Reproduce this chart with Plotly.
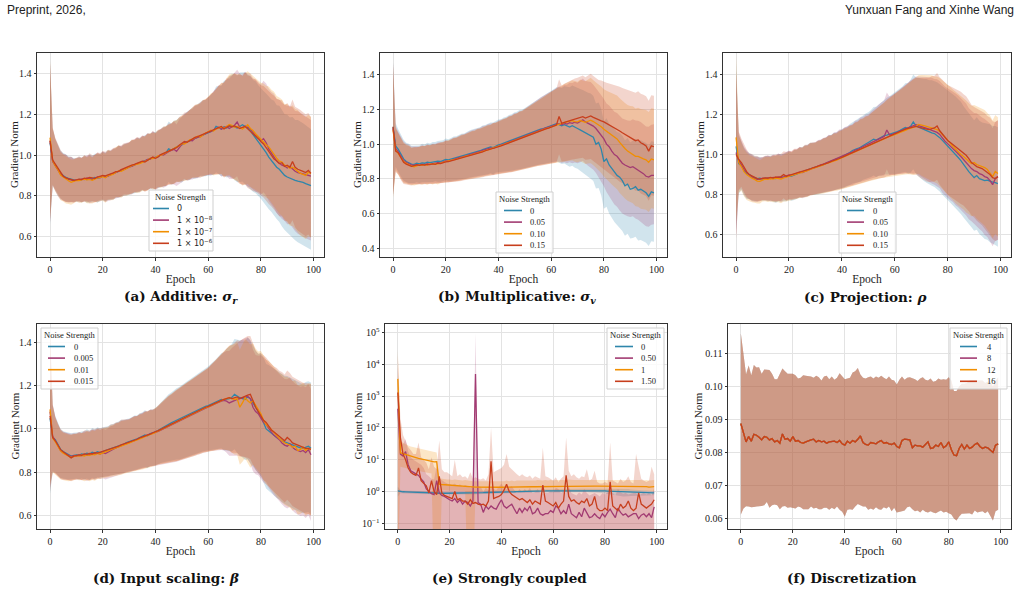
import plotly.graph_objects as go

W, H = 1021, 594
EPOCHS = list(range(100))
E_FLOOR = 1e-3

COLORS = ["#2E86AB", "#A23B72", "#F18F01", "#C73E1D"]

# ---------------- (a) Additive ----------------
a_labels = ["0", "1 × 10<sup>−8</sup>", "1 × 10<sup>−7</sup>", "1 × 10<sup>−6</sup>"]
a_0 = [1.060, 0.970, 0.950, 0.930, 0.910, 0.900, 0.890, 0.885, 0.880, 0.878,
       0.876, 0.880, 0.879, 0.884, 0.880, 0.886, 0.884, 0.890, 0.886, 0.892,
       0.896, 0.894, 0.900, 0.905, 0.908, 0.914, 0.920, 0.924, 0.930, 0.934,
       0.940, 0.946, 0.950, 0.956, 0.962, 0.966, 0.972, 0.976, 0.982, 0.986,
       0.990, 0.992, 1.000, 1.006, 1.012, 1.030, 1.024, 1.032, 1.040, 1.046,
       1.050, 1.060, 1.064, 1.070, 1.076, 1.080, 1.088, 1.094, 1.100, 1.104,
       1.110, 1.116, 1.120, 1.140, 1.134, 1.128, 1.138, 1.132, 1.140, 1.144,
       1.138, 1.132, 1.140, 1.148, 1.140, 1.132, 1.118, 1.100, 1.088, 1.070,
       1.050, 1.030, 1.012, 0.990, 0.972, 0.956, 0.940, 0.930, 0.914, 0.900,
       0.892, 0.886, 0.882, 0.876, 0.872, 0.870, 0.866, 0.860, 0.856, 0.850]
a_1 = [1.070, 0.968, 0.948, 0.925, 0.905, 0.895, 0.887, 0.880, 0.878, 0.874,
       0.878, 0.876, 0.882, 0.880, 0.888, 0.882, 0.880, 0.886, 0.892, 0.888,
       0.898, 0.892, 0.896, 0.904, 0.910, 0.912, 0.918, 0.926, 0.928, 0.936,
       0.942, 0.944, 0.952, 0.958, 0.960, 0.968, 0.970, 0.978, 0.980, 0.988,
       0.986, 0.994, 1.002, 1.000, 1.010, 1.016, 1.022, 1.028, 1.018, 1.036,
       1.052, 1.058, 1.066, 1.072, 1.070, 1.082, 1.086, 1.090, 1.098, 1.106,
       1.112, 1.114, 1.124, 1.130, 1.136, 1.126, 1.134, 1.140, 1.130, 1.138,
       1.146, 1.162, 1.136, 1.130, 1.142, 1.136, 1.128, 1.110, 1.096, 1.088,
       1.070, 1.080, 1.060, 1.030, 1.010, 0.990, 0.970, 0.960, 0.950, 0.946,
       0.936, 0.944, 0.930, 0.920, 0.914, 0.912, 0.908, 0.904, 0.900, 0.896]
a_2 = [1.085, 0.972, 0.946, 0.928, 0.902, 0.892, 0.880, 0.874, 0.866, 0.872,
       0.876, 0.874, 0.878, 0.882, 0.878, 0.880, 0.876, 0.884, 0.888, 0.890,
       0.894, 0.888, 0.900, 0.902, 0.906, 0.916, 0.922, 0.920, 0.928, 0.932,
       0.940, 0.948, 0.952, 0.954, 0.958, 0.964, 0.968, 0.974, 0.984, 0.982,
       0.988, 0.996, 0.998, 1.004, 1.014, 1.018, 1.024, 1.032, 1.040, 1.044,
       1.056, 1.054, 1.062, 1.074, 1.078, 1.084, 1.092, 1.088, 1.100, 1.108,
       1.114, 1.122, 1.118, 1.128, 1.132, 1.138, 1.130, 1.142, 1.150, 1.146,
       1.136, 1.140, 1.134, 1.128, 1.136, 1.148, 1.130, 1.120, 1.104, 1.090,
       1.078, 1.066, 1.050, 1.040, 1.020, 1.000, 0.985, 0.970, 0.966, 0.950,
       0.945, 0.935, 0.940, 0.930, 0.920, 0.910, 0.905, 0.900, 0.915, 0.910]
a_3 = [1.070, 0.975, 0.955, 0.935, 0.912, 0.896, 0.888, 0.884, 0.880, 0.876,
       0.878, 0.882, 0.880, 0.886, 0.884, 0.890, 0.888, 0.884, 0.892, 0.896,
       0.900, 0.898, 0.902, 0.908, 0.912, 0.918, 0.920, 0.928, 0.934, 0.938,
       0.942, 0.950, 0.954, 0.960, 0.964, 0.970, 0.966, 0.974, 0.982, 0.990,
       0.984, 0.990, 1.002, 1.008, 1.012, 1.020, 1.026, 1.030, 1.036, 1.048,
       1.058, 1.066, 1.062, 1.070, 1.080, 1.086, 1.090, 1.096, 1.102, 1.106,
       1.112, 1.118, 1.124, 1.128, 1.134, 1.140, 1.128, 1.136, 1.144, 1.138,
       1.142, 1.136, 1.130, 1.136, 1.140, 1.128, 1.116, 1.104, 1.096, 1.080,
       1.066, 1.054, 1.036, 1.016, 1.000, 0.980, 0.972, 0.958, 0.962, 0.944,
       0.950, 0.940, 0.968, 0.940, 0.930, 0.926, 0.920, 0.914, 0.924, 0.910]
a_up = [0.380, 0.160, 0.130, 0.118, 0.112, 0.110, 0.114, 0.108, 0.112, 0.106,
        0.108, 0.112, 0.106, 0.114, 0.110, 0.118, 0.112, 0.116, 0.120, 0.114,
        0.120, 0.118, 0.124, 0.116, 0.122, 0.120, 0.126, 0.118, 0.124, 0.122,
        0.120, 0.126, 0.122, 0.128, 0.120, 0.126, 0.124, 0.130, 0.122, 0.128,
        0.122, 0.128, 0.126, 0.132, 0.128, 0.134, 0.130, 0.136, 0.132, 0.138,
        0.136, 0.142, 0.146, 0.150, 0.156, 0.160, 0.158, 0.164, 0.168, 0.166,
        0.172, 0.180, 0.188, 0.196, 0.206, 0.214, 0.226, 0.236, 0.244, 0.252,
        0.260, 0.256, 0.264, 0.258, 0.266, 0.262, 0.270, 0.268, 0.274, 0.272,
        0.276, 0.284, 0.290, 0.296, 0.300, 0.310, 0.304, 0.312, 0.306, 0.300,
        0.305, 0.298, 0.304, 0.296, 0.300, 0.295, 0.290, 0.286, 0.282, 0.276]
a_lo = [0.400, 0.120, 0.125, 0.128, 0.124, 0.120, 0.118, 0.114, 0.110, 0.108,
        0.105, 0.108, 0.112, 0.110, 0.114, 0.118, 0.114, 0.116, 0.120, 0.116,
        0.118, 0.122, 0.120, 0.124, 0.126, 0.124, 0.128, 0.130, 0.128, 0.132,
        0.135, 0.138, 0.136, 0.140, 0.142, 0.140, 0.146, 0.148, 0.146, 0.152,
        0.155, 0.152, 0.158, 0.160, 0.164, 0.162, 0.168, 0.172, 0.170, 0.178,
        0.185, 0.182, 0.188, 0.192, 0.190, 0.196, 0.200, 0.198, 0.204, 0.208,
        0.210, 0.214, 0.218, 0.224, 0.228, 0.232, 0.238, 0.242, 0.248, 0.254,
        0.260, 0.266, 0.272, 0.278, 0.284, 0.290, 0.286, 0.280, 0.276, 0.270,
        0.265, 0.262, 0.258, 0.256, 0.252, 0.250, 0.254, 0.258, 0.264, 0.268,
        0.275, 0.282, 0.288, 0.294, 0.300, 0.305, 0.308, 0.312, 0.314, 0.315]

# ---------------- (b) Multiplicative ----------------
b_labels = ["0", "0.05", "0.10", "0.15"]
b_0 = [1.100, 0.990, 0.970, 0.940, 0.915, 0.900, 0.890, 0.885, 0.884, 0.890,
       0.886, 0.892, 0.890, 0.896, 0.894, 0.898, 0.900, 0.902, 0.900, 0.906,
       0.912, 0.910, 0.914, 0.918, 0.922, 0.926, 0.930, 0.934, 0.940, 0.944,
       0.948, 0.954, 0.958, 0.962, 0.968, 0.972, 0.976, 0.984, 0.980, 0.990,
       0.996, 1.000, 1.006, 1.012, 1.018, 1.024, 1.030, 1.036, 1.042, 1.046,
       1.052, 1.058, 1.064, 1.070, 1.074, 1.080, 1.086, 1.090, 1.096, 1.100,
       1.104, 1.110, 1.118, 1.112, 1.106, 1.112, 1.104, 1.098, 1.106, 1.096,
       1.090, 1.082, 1.074, 1.066, 1.056, 1.048, 1.040, 1.000, 1.010, 0.970,
       0.900, 0.915, 0.880, 0.860, 0.840, 0.820, 0.810, 0.790, 0.760, 0.770,
       0.740, 0.745, 0.755, 0.735, 0.740, 0.730, 0.720, 0.700, 0.725, 0.720]
b_1 = [1.090, 0.975, 0.955, 0.930, 0.905, 0.895, 0.885, 0.880, 0.878, 0.882,
       0.880, 0.884, 0.882, 0.886, 0.884, 0.888, 0.890, 0.894, 0.892, 0.898,
       0.904, 0.902, 0.908, 0.912, 0.916, 0.922, 0.926, 0.930, 0.936, 0.940,
       0.944, 0.950, 0.954, 0.958, 0.964, 0.968, 0.972, 0.978, 0.976, 0.984,
       0.990, 0.996, 1.000, 1.006, 1.012, 1.018, 1.026, 1.030, 1.036, 1.042,
       1.048, 1.054, 1.060, 1.066, 1.072, 1.078, 1.084, 1.088, 1.094, 1.098,
       1.102, 1.108, 1.114, 1.118, 1.112, 1.120, 1.116, 1.124, 1.120, 1.126,
       1.122, 1.130, 1.140, 1.128, 1.120, 1.114, 1.104, 1.090, 1.070, 1.050,
       1.030, 1.000, 0.985, 0.960, 0.940, 0.930, 0.910, 0.890, 0.880, 0.870,
       0.865, 0.870, 0.860, 0.855, 0.845, 0.830, 0.815, 0.810, 0.820, 0.820]
b_2 = [1.080, 0.965, 0.945, 0.925, 0.900, 0.890, 0.880, 0.874, 0.870, 0.876,
       0.880, 0.878, 0.882, 0.880, 0.886, 0.884, 0.888, 0.886, 0.892, 0.896,
       0.900, 0.904, 0.906, 0.910, 0.914, 0.918, 0.924, 0.928, 0.932, 0.936,
       0.940, 0.944, 0.950, 0.954, 0.958, 0.964, 0.968, 0.972, 0.978, 0.982,
       0.986, 0.992, 0.998, 1.004, 1.010, 1.016, 1.022, 1.028, 1.034, 1.040,
       1.046, 1.052, 1.058, 1.064, 1.070, 1.076, 1.080, 1.086, 1.090, 1.094,
       1.100, 1.104, 1.110, 1.116, 1.120, 1.124, 1.128, 1.132, 1.136, 1.130,
       1.128, 1.136, 1.130, 1.126, 1.132, 1.138, 1.130, 1.120, 1.114, 1.100,
       1.086, 1.074, 1.064, 1.052, 1.040, 1.030, 1.010, 0.990, 0.975, 0.960,
       0.950, 0.945, 0.930, 0.930, 0.920, 0.915, 0.910, 0.895, 0.915, 0.910]
b_3 = [1.100, 0.960, 0.950, 0.920, 0.895, 0.885, 0.878, 0.872, 0.876, 0.880,
       0.878, 0.882, 0.880, 0.884, 0.882, 0.886, 0.884, 0.890, 0.888, 0.894,
       0.898, 0.900, 0.904, 0.908, 0.912, 0.916, 0.920, 0.926, 0.930, 0.934,
       0.938, 0.942, 0.948, 0.952, 0.956, 0.962, 0.966, 0.970, 0.976, 0.980,
       0.984, 0.990, 0.996, 1.002, 1.008, 1.014, 1.020, 1.026, 1.032, 1.038,
       1.044, 1.050, 1.056, 1.062, 1.068, 1.074, 1.078, 1.084, 1.088, 1.092,
       1.098, 1.104, 1.110, 1.160, 1.120, 1.126, 1.130, 1.136, 1.140, 1.144,
       1.150, 1.154, 1.158, 1.150, 1.156, 1.162, 1.154, 1.146, 1.140, 1.134,
       1.128, 1.120, 1.112, 1.104, 1.096, 1.086, 1.076, 1.066, 1.056, 1.048,
       1.040, 1.030, 1.020, 1.024, 1.008, 1.000, 0.990, 0.960, 0.990, 0.985]
b_up = [0.370, 0.130, 0.115, 0.112, 0.110, 0.108, 0.112, 0.106, 0.108, 0.104,
        0.106, 0.110, 0.108, 0.112, 0.110, 0.114, 0.112, 0.116, 0.118, 0.116,
        0.120, 0.118, 0.122, 0.126, 0.124, 0.128, 0.130, 0.128, 0.132, 0.134,
        0.136, 0.134, 0.138, 0.136, 0.140, 0.138, 0.142, 0.140, 0.144, 0.142,
        0.146, 0.144, 0.148, 0.146, 0.150, 0.148, 0.152, 0.150, 0.154, 0.152,
        0.156, 0.160, 0.166, 0.170, 0.176, 0.180, 0.186, 0.190, 0.194, 0.198,
        0.202, 0.206, 0.210, 0.214, 0.218, 0.222, 0.226, 0.230, 0.232, 0.234,
        0.232, 0.236, 0.238, 0.236, 0.240, 0.244, 0.238, 0.234, 0.230, 0.232,
        0.230, 0.234, 0.238, 0.242, 0.246, 0.250, 0.254, 0.258, 0.262, 0.266,
        0.270, 0.274, 0.276, 0.280, 0.282, 0.284, 0.286, 0.290, 0.292, 0.294]
b_lo = [0.390, 0.120, 0.125, 0.128, 0.124, 0.118, 0.114, 0.110, 0.108, 0.110,
        0.110, 0.112, 0.110, 0.114, 0.112, 0.116, 0.114, 0.118, 0.116, 0.120,
        0.120, 0.122, 0.124, 0.126, 0.128, 0.130, 0.132, 0.134, 0.136, 0.136,
        0.138, 0.140, 0.142, 0.144, 0.146, 0.148, 0.150, 0.152, 0.154, 0.154,
        0.156, 0.160, 0.164, 0.168, 0.172, 0.176, 0.180, 0.182, 0.186, 0.188,
        0.190, 0.192, 0.194, 0.196, 0.198, 0.200, 0.202, 0.204, 0.206, 0.208,
        0.210, 0.212, 0.216, 0.218, 0.220, 0.224, 0.226, 0.228, 0.230, 0.232,
        0.232, 0.234, 0.236, 0.240, 0.244, 0.248, 0.252, 0.256, 0.262, 0.266,
        0.272, 0.276, 0.280, 0.284, 0.288, 0.290, 0.292, 0.290, 0.288, 0.286,
        0.284, 0.286, 0.288, 0.290, 0.292, 0.290, 0.288, 0.286, 0.284, 0.282]

# ---------------- (c) Projection ----------------
c_labels = ["0", "0.05", "0.10", "0.15"]
c_0 = [1.040, 0.955, 0.945, 0.920, 0.905, 0.900, 0.890, 0.885, 0.880, 0.882,
       0.878, 0.882, 0.880, 0.884, 0.882, 0.880, 0.884, 0.888, 0.886, 0.890,
       0.894, 0.892, 0.898, 0.904, 0.910, 0.914, 0.918, 0.924, 0.928, 0.932,
       0.936, 0.940, 0.946, 0.950, 0.956, 0.962, 0.968, 0.972, 0.978, 0.982,
       0.988, 0.994, 1.000, 1.010, 1.020, 1.024, 1.030, 1.036, 1.046, 1.052,
       1.060, 1.066, 1.076, 1.072, 1.080, 1.086, 1.094, 1.096, 1.100, 1.106,
       1.108, 1.114, 1.120, 1.126, 1.134, 1.130, 1.140, 1.162, 1.144, 1.136,
       1.130, 1.124, 1.120, 1.112, 1.108, 1.104, 1.096, 1.084, 1.070, 1.056,
       1.044, 1.030, 1.018, 1.000, 0.985, 0.970, 0.950, 0.930, 0.915, 0.900,
       0.885, 0.895, 0.880, 0.875, 0.870, 0.872, 0.866, 0.862, 0.860, 0.855]
c_1 = [1.010, 0.970, 0.948, 0.925, 0.910, 0.898, 0.888, 0.880, 0.876, 0.878,
       0.882, 0.880, 0.884, 0.880, 0.886, 0.884, 0.888, 0.884, 0.890, 0.894,
       0.898, 0.896, 0.902, 0.906, 0.912, 0.910, 0.916, 0.922, 0.926, 0.932,
       0.936, 0.944, 0.948, 0.952, 0.958, 0.964, 0.966, 0.974, 0.980, 0.986,
       0.990, 0.996, 1.004, 1.008, 1.012, 1.022, 1.026, 1.034, 1.040, 1.046,
       1.052, 1.058, 1.064, 1.072, 1.080, 1.084, 1.090, 1.122, 1.098, 1.100,
       1.104, 1.110, 1.116, 1.122, 1.128, 1.134, 1.138, 1.142, 1.148, 1.144,
       1.140, 1.136, 1.130, 1.126, 1.120, 1.116, 1.110, 1.100, 1.080, 1.066,
       1.054, 1.042, 1.032, 1.016, 1.004, 0.990, 0.975, 0.960, 0.940, 0.930,
       0.920, 0.915, 0.905, 0.900, 0.890, 0.885, 0.870, 0.850, 0.880, 0.890]
c_2 = [1.085, 0.960, 0.940, 0.915, 0.900, 0.890, 0.882, 0.876, 0.868, 0.866,
       0.874, 0.878, 0.876, 0.880, 0.878, 0.882, 0.880, 0.878, 0.884, 0.888,
       0.890, 0.894, 0.898, 0.904, 0.908, 0.912, 0.916, 0.920, 0.926, 0.930,
       0.934, 0.938, 0.944, 0.948, 0.954, 0.958, 0.964, 0.968, 0.972, 0.978,
       0.984, 0.988, 0.994, 1.000, 1.006, 1.012, 1.018, 1.024, 1.030, 1.036,
       1.042, 1.048, 1.054, 1.060, 1.066, 1.072, 1.078, 1.084, 1.090, 1.094,
       1.098, 1.104, 1.110, 1.114, 1.120, 1.126, 1.130, 1.134, 1.140, 1.150,
       1.148, 1.144, 1.140, 1.136, 1.132, 1.128, 1.124, 1.114, 1.100, 1.088,
       1.070, 1.056, 1.040, 1.026, 1.012, 1.000, 0.990, 0.975, 0.965, 0.955,
       0.960, 0.950, 0.945, 0.940, 0.935, 0.925, 0.910, 0.890, 0.915, 0.905]
c_3 = [1.000, 0.975, 0.960, 0.935, 0.915, 0.900, 0.892, 0.886, 0.880, 0.878,
       0.880, 0.884, 0.882, 0.886, 0.884, 0.888, 0.886, 0.890, 0.900, 0.892,
       0.896, 0.900, 0.904, 0.908, 0.910, 0.914, 0.920, 0.924, 0.928, 0.934,
       0.938, 0.942, 0.946, 0.952, 0.956, 0.960, 0.966, 0.970, 0.976, 0.980,
       0.986, 0.992, 0.998, 1.002, 1.008, 1.014, 1.020, 1.026, 1.032, 1.038,
       1.044, 1.050, 1.056, 1.062, 1.068, 1.074, 1.080, 1.088, 1.094, 1.100,
       1.104, 1.110, 1.116, 1.120, 1.126, 1.130, 1.134, 1.138, 1.140, 1.136,
       1.132, 1.128, 1.126, 1.124, 1.128, 1.132, 1.142, 1.118, 1.102, 1.086,
       1.070, 1.060, 1.050, 1.040, 1.030, 1.020, 1.010, 0.996, 0.980, 0.960,
       0.950, 0.940, 0.935, 0.930, 0.920, 0.910, 0.900, 0.885, 0.880, 0.890]
c_up = [0.410, 0.140, 0.120, 0.114, 0.110, 0.106, 0.110, 0.108, 0.112, 0.106,
        0.106, 0.110, 0.112, 0.108, 0.114, 0.112, 0.118, 0.114, 0.116, 0.120,
        0.122, 0.118, 0.124, 0.120, 0.126, 0.122, 0.128, 0.124, 0.130, 0.126,
        0.124, 0.128, 0.126, 0.130, 0.128, 0.134, 0.130, 0.136, 0.132, 0.138,
        0.136, 0.140, 0.138, 0.142, 0.140, 0.146, 0.144, 0.150, 0.148, 0.152,
        0.150, 0.156, 0.160, 0.166, 0.170, 0.176, 0.180, 0.186, 0.190, 0.194,
        0.198, 0.204, 0.208, 0.214, 0.220, 0.226, 0.232, 0.236, 0.240, 0.244,
        0.248, 0.252, 0.256, 0.258, 0.262, 0.260, 0.264, 0.266, 0.270, 0.272,
        0.276, 0.280, 0.284, 0.288, 0.290, 0.292, 0.290, 0.294, 0.290, 0.288,
        0.286, 0.290, 0.288, 0.284, 0.286, 0.282, 0.284, 0.280, 0.282, 0.280]
c_lo = [0.420, 0.150, 0.120, 0.124, 0.126, 0.122, 0.120, 0.116, 0.112, 0.110,
        0.108, 0.110, 0.112, 0.114, 0.116, 0.120, 0.118, 0.120, 0.118, 0.122,
        0.120, 0.122, 0.124, 0.126, 0.124, 0.128, 0.130, 0.132, 0.130, 0.134,
        0.136, 0.138, 0.140, 0.142, 0.144, 0.146, 0.148, 0.150, 0.152, 0.154,
        0.156, 0.158, 0.160, 0.162, 0.164, 0.166, 0.168, 0.170, 0.172, 0.174,
        0.176, 0.178, 0.180, 0.184, 0.186, 0.190, 0.194, 0.196, 0.200, 0.202,
        0.206, 0.208, 0.212, 0.216, 0.220, 0.224, 0.230, 0.236, 0.240, 0.246,
        0.252, 0.256, 0.260, 0.262, 0.264, 0.266, 0.268, 0.268, 0.270, 0.270,
        0.270, 0.270, 0.268, 0.268, 0.266, 0.266, 0.264, 0.264, 0.262, 0.262,
        0.264, 0.270, 0.276, 0.282, 0.290, 0.296, 0.302, 0.306, 0.310, 0.314]

# ---------------- (d) Input scaling ----------------
d_labels = ["0", "0.005", "0.01", "0.015"]
d_0 = [1.050, 0.960, 0.950, 0.925, 0.905, 0.895, 0.888, 0.880, 0.874, 0.878,
       0.880, 0.878, 0.884, 0.882, 0.888, 0.884, 0.892, 0.888, 0.894, 0.890,
       0.896, 0.900, 0.904, 0.908, 0.912, 0.916, 0.922, 0.926, 0.930, 0.936,
       0.940, 0.944, 0.950, 0.954, 0.960, 0.966, 0.972, 0.968, 0.978, 0.982,
       0.986, 0.992, 1.000, 1.008, 1.014, 1.022, 1.028, 1.034, 1.040, 1.044,
       1.052, 1.058, 1.064, 1.070, 1.076, 1.082, 1.088, 1.094, 1.098, 1.104,
       1.108, 1.114, 1.118, 1.124, 1.130, 1.136, 1.132, 1.138, 1.140, 1.146,
       1.160, 1.150, 1.144, 1.140, 1.136, 1.148, 1.140, 1.120, 1.100, 1.080,
       1.060, 1.030, 1.000, 0.990, 0.980, 0.970, 0.960, 0.955, 0.945, 0.940,
       0.935, 0.930, 0.925, 0.920, 0.915, 0.912, 0.910, 0.915, 0.920, 0.910]
d_1 = [1.080, 0.965, 0.945, 0.920, 0.900, 0.890, 0.884, 0.878, 0.872, 0.876,
       0.874, 0.878, 0.876, 0.880, 0.878, 0.882, 0.886, 0.884, 0.888, 0.884,
       0.890, 0.886, 0.894, 0.900, 0.906, 0.912, 0.916, 0.922, 0.928, 0.932,
       0.936, 0.942, 0.946, 0.952, 0.956, 0.962, 0.966, 0.972, 0.976, 0.980,
       0.982, 0.988, 0.994, 1.000, 1.006, 1.012, 1.018, 1.024, 1.030, 1.036,
       1.044, 1.050, 1.056, 1.062, 1.068, 1.074, 1.080, 1.086, 1.090, 1.096,
       1.100, 1.108, 1.112, 1.118, 1.124, 1.128, 1.132, 1.128, 1.120, 1.126,
       1.130, 1.136, 1.140, 1.144, 1.148, 1.150, 1.140, 1.100, 1.080, 1.070,
       1.050, 1.030, 1.020, 1.000, 0.985, 0.970, 0.960, 0.950, 0.935, 0.925,
       0.920, 0.930, 0.915, 0.905, 0.900, 0.895, 0.900, 0.890, 0.905, 0.880]
d_2 = [1.090, 0.958, 0.940, 0.918, 0.898, 0.888, 0.880, 0.872, 0.868, 0.872,
       0.876, 0.874, 0.878, 0.874, 0.880, 0.878, 0.882, 0.880, 0.886, 0.884,
       0.890, 0.894, 0.898, 0.904, 0.908, 0.912, 0.916, 0.920, 0.926, 0.930,
       0.934, 0.940, 0.944, 0.950, 0.954, 0.958, 0.964, 0.970, 0.974, 0.978,
       0.984, 0.990, 0.996, 1.002, 1.008, 1.014, 1.020, 1.026, 1.032, 1.038,
       1.046, 1.052, 1.058, 1.064, 1.070, 1.076, 1.082, 1.086, 1.092, 1.098,
       1.102, 1.108, 1.114, 1.120, 1.126, 1.132, 1.136, 1.140, 1.144, 1.140,
       1.136, 1.140, 1.100, 1.120, 1.144, 1.130, 1.120, 1.130, 1.110, 1.090,
       1.070, 1.040, 1.020, 1.010, 0.995, 0.980, 0.965, 0.955, 0.945, 0.935,
       0.930, 0.925, 0.915, 0.920, 0.900, 0.905, 0.915, 0.900, 0.910, 0.905]
d_3 = [1.060, 0.960, 0.945, 0.922, 0.904, 0.894, 0.884, 0.876, 0.866, 0.874,
       0.878, 0.880, 0.878, 0.884, 0.882, 0.886, 0.884, 0.890, 0.888, 0.892,
       0.894, 0.898, 0.902, 0.908, 0.912, 0.916, 0.920, 0.926, 0.930, 0.934,
       0.938, 0.942, 0.948, 0.952, 0.958, 0.962, 0.968, 0.972, 0.976, 0.982,
       0.986, 0.992, 0.998, 1.004, 1.010, 1.016, 1.022, 1.028, 1.034, 1.040,
       1.048, 1.054, 1.060, 1.066, 1.072, 1.078, 1.084, 1.090, 1.094, 1.100,
       1.104, 1.110, 1.116, 1.122, 1.128, 1.132, 1.136, 1.140, 1.144, 1.140,
       1.144, 1.148, 1.140, 1.146, 1.150, 1.156, 1.160, 1.130, 1.100, 1.080,
       1.060, 1.040, 1.030, 1.010, 0.995, 0.985, 0.975, 0.965, 0.955, 0.945,
       0.960, 0.950, 0.935, 0.930, 0.925, 0.920, 0.915, 0.910, 0.910, 0.905]
d_up = [0.380, 0.150, 0.110, 0.100, 0.095, 0.094, 0.098, 0.102, 0.106, 0.104,
        0.102, 0.106, 0.104, 0.108, 0.110, 0.106, 0.112, 0.110, 0.114, 0.112,
        0.112, 0.110, 0.108, 0.112, 0.110, 0.114, 0.112, 0.116, 0.112, 0.110,
        0.108, 0.110, 0.112, 0.108, 0.112, 0.110, 0.114, 0.110, 0.112, 0.108,
        0.110, 0.116, 0.122, 0.128, 0.134, 0.138, 0.140, 0.146, 0.148, 0.150,
        0.152, 0.154, 0.156, 0.158, 0.160, 0.164, 0.166, 0.170, 0.172, 0.176,
        0.180, 0.186, 0.192, 0.198, 0.206, 0.214, 0.222, 0.232, 0.240, 0.248,
        0.256, 0.262, 0.266, 0.270, 0.272, 0.274, 0.270, 0.266, 0.262, 0.268,
        0.290, 0.300, 0.300, 0.304, 0.306, 0.304, 0.306, 0.304, 0.308, 0.306,
        0.310, 0.308, 0.306, 0.304, 0.302, 0.300, 0.298, 0.302, 0.300, 0.304]
d_lo = [0.350, 0.160, 0.150, 0.140, 0.132, 0.126, 0.120, 0.114, 0.108, 0.110,
        0.110, 0.112, 0.114, 0.116, 0.118, 0.120, 0.118, 0.120, 0.118, 0.116,
        0.118, 0.120, 0.122, 0.124, 0.126, 0.128, 0.130, 0.132, 0.134, 0.134,
        0.136, 0.138, 0.140, 0.142, 0.144, 0.146, 0.148, 0.150, 0.150, 0.152,
        0.154, 0.156, 0.158, 0.162, 0.166, 0.170, 0.174, 0.178, 0.182, 0.186,
        0.190, 0.192, 0.194, 0.196, 0.198, 0.200, 0.200, 0.202, 0.202, 0.204,
        0.206, 0.210, 0.214, 0.218, 0.222, 0.226, 0.232, 0.238, 0.244, 0.250,
        0.254, 0.260, 0.266, 0.272, 0.280, 0.290, 0.300, 0.296, 0.290, 0.284,
        0.280, 0.278, 0.276, 0.276, 0.276, 0.278, 0.280, 0.282, 0.284, 0.286,
        0.288, 0.290, 0.292, 0.294, 0.296, 0.298, 0.300, 0.302, 0.304, 0.306]

# ---------------- (e) Strongly coupled (log scale) ----------------
e_labels = ["0", "0.50", "1", "1.50"]
e_0 = [1.05, 1.00, 0.98, 0.97, 0.96, 0.95, 0.94, 0.93, 0.92, 0.92,
       0.91, 0.90, 0.90, 0.89, 0.89, 0.89, 0.88, 0.88, 0.88, 0.88,
       0.88, 0.88, 0.88, 0.89, 0.89, 0.89, 0.89, 0.90, 0.90, 0.90,
       0.91, 0.91, 0.92, 0.92, 0.93, 0.93, 0.94, 0.94, 0.95, 0.95,
       0.96, 0.96, 0.97, 0.97, 0.98, 0.98, 0.99, 0.99, 1.00, 1.00,
       1.01, 1.01, 1.02, 1.02, 1.03, 1.03, 1.04, 1.04, 1.05, 1.05,
       1.06, 1.06, 1.07, 1.07, 1.08, 1.08, 1.08, 1.09, 1.09, 1.09,
       1.09, 1.09, 1.09, 1.09, 1.08, 1.08, 1.07, 1.07, 1.06, 1.05,
       1.04, 1.03, 1.02, 1.01, 1.00, 0.99, 0.98, 0.97, 0.96, 0.95,
       0.94, 0.94, 0.93, 0.93, 0.92, 0.92, 0.91, 0.91, 0.90, 0.90]
e_0_dev = [0.35, 0.12, 0.10, 0.10, 0.09, 0.09, 0.09, 0.09, 0.08, 0.08,
           0.08, 0.08, 0.08, 0.08, 0.08, 0.08, 0.08, 0.08, 0.08, 0.08,
           0.08, 0.08, 0.08, 0.08, 0.08, 0.09, 0.09, 0.09, 0.09, 0.09,
           0.09, 0.09, 0.09, 0.09, 0.09, 0.09, 0.09, 0.09, 0.09, 0.09,
           0.09, 0.09, 0.10, 0.10, 0.10, 0.10, 0.10, 0.10, 0.10, 0.10,
           0.10, 0.10, 0.10, 0.10, 0.11, 0.11, 0.11, 0.11, 0.11, 0.11,
           0.11, 0.11, 0.11, 0.12, 0.12, 0.12, 0.12, 0.12, 0.12, 0.12,
           0.12, 0.12, 0.13, 0.13, 0.13, 0.14, 0.14, 0.15, 0.15, 0.16,
           0.17, 0.18, 0.19, 0.20, 0.22, 0.24, 0.26, 0.27, 0.26, 0.24,
           0.22, 0.20, 0.19, 0.18, 0.17, 0.16, 0.15, 0.15, 0.14, 0.14]
e_1 = [400, 15, 13, 18, 7, 4.5, 4, 3.5, 3.2, 2.5,
       2.0, 1.2, 1.0, 0.85, 0.8, 2.2, 0.9, 0.75, 0.7, 0.6,
       0.55, 0.5, 0.6, 0.45, 0.55, 0.4, 0.5, 0.45, 0.35, 0.5,
       5000, 0.45, 0.4, 0.22, 0.35, 0.28, 0.35, 0.3, 0.28, 0.4,
       0.55, 0.35, 0.3, 0.35, 0.4, 0.28, 0.2, 0.3, 0.22, 0.3,
       0.25, 0.35, 0.2, 0.22, 0.3, 0.2, 0.18, 0.2, 0.2, 0.25,
       0.22, 0.35, 0.3, 0.2, 0.25, 0.2, 0.4, 0.2, 0.17, 0.15,
       0.22, 0.16, 0.3, 0.2, 0.15, 0.16, 0.2, 0.16, 0.14, 0.2,
       0.16, 0.22, 0.28, 0.2, 0.15, 0.3, 0.22, 0.18, 0.2, 0.16,
       0.18, 0.2, 0.2, 0.14, 0.18, 0.2, 0.16, 0.2, 0.15, 0.33]
e_1_hi = [8000, 40, 30, 45, 18, 12, 10, 9, 8, 7,
          5.5, 3.5, 3, 2.5, 2.4, 6, 2.6, 2.2, 2, 1.8,
          1.7, 1.6, 1.8, 1.5, 1.7, 1.4, 1.6, 1.5, 1.3, 1.6,
          95000, 1.5, 1.4, 1.0, 1.3, 1.1, 1.3, 1.2, 1.1, 1.4,
          1.8, 1.3, 1.2, 1.3, 1.5, 1.1, 0.9, 1.2, 0.95, 1.2,
          1.0, 1.3, 0.9, 0.95, 1.2, 0.9, 0.85, 0.9, 0.9, 1.0,
          0.95, 1.3, 1.2, 0.9, 1.0, 0.9, 1.5, 0.9, 0.8, 0.75,
          0.95, 0.8, 1.2, 0.9, 0.75, 0.8, 0.9, 0.8, 0.7, 0.9,
          0.8, 0.95, 1.1, 0.9, 0.75, 1.2, 0.95, 0.85, 0.9, 0.8,
          0.85, 0.9, 0.9, 0.7, 0.85, 0.9, 0.8, 0.9, 0.75, 1.3]
e_1_lo = [E_FLOOR] * 100
e_2 = [3500, 16.6, 15.5, 14.5, 13.5, 12.8, 12.2, 11.6, 11.0, 10.5,
       10.0, 9.6, 9.2, 8.9, 8.6, 8.7, 1.70, 1.66, 1.63, 1.60,
       1.58, 1.56, 1.54, 1.52, 1.50, 1.48, 1.46, 1.45, 1.42, 1.40,
       1.38, 1.37, 1.36, 1.35, 1.35, 1.34, 1.34, 1.35, 1.36, 1.36,
       1.36, 1.37, 1.38, 1.38, 1.38, 1.39, 1.39, 1.40, 1.40, 1.40,
       1.40, 1.41, 1.41, 1.41, 1.42, 1.42, 1.42, 1.42, 1.43, 1.43,
       1.43, 1.43, 1.44, 1.44, 1.44, 1.44, 1.45, 1.45, 1.45, 1.45,
       1.45, 1.46, 1.46, 1.46, 1.46, 1.46, 1.47, 1.47, 1.47, 1.47,
       1.47, 1.47, 1.47, 1.47, 1.47, 1.46, 1.46, 1.46, 1.46, 1.46,
       1.45, 1.45, 1.45, 1.45, 1.44, 1.44, 1.43, 1.38, 1.40, 1.42]
e_2_hi = [30000, 40, 34, 30, 28, 26, 25, 24, 23, 22,
          21, 20, 19, 18.5, 18, 17, 2.6, 2.5, 2.5, 2.4,
          2.4, 2.3, 2.4, 2.3, 2.3, 2.2, 2.3, 2.2, 2.2, 2.1,
          2.1, 2.1, 2.0, 2.1, 2.0, 2.1, 2.0, 2.1, 2.1, 2.0,
          2.1, 2.1, 2.2, 2.1, 2.2, 2.1, 2.2, 2.2, 2.1, 2.2,
          2.2, 2.1, 2.2, 2.2, 2.3, 2.2, 2.2, 2.3, 2.2, 2.3,
          2.2, 2.3, 2.3, 2.2, 2.3, 2.3, 2.4, 2.3, 2.3, 2.3,
          2.3, 2.4, 2.3, 2.4, 2.3, 2.4, 2.4, 2.3, 2.4, 2.4,
          2.4, 2.3, 2.4, 2.4, 2.3, 2.4, 2.3, 2.4, 2.3, 2.3,
          2.3, 2.3, 2.4, 2.3, 2.3, 2.2, 2.3, 2.2, 2.2, 2.3]
e_2_lo = [E_FLOOR, 6.0, 5.8, 5.5, 5.2, 5.0, 4.8, 4.6, 4.4, 4.2,
          4.0, 3.9, 3.8, 3.7, E_FLOOR, E_FLOOR, E_FLOOR, 1.10, 1.10, 1.08,
          1.08, 1.06, 1.06, 1.05, 1.05, 1.04, 1.04, E_FLOOR, E_FLOOR, E_FLOOR,
          1.02, 1.02, 1.00, 1.00, 1.00, 1.00, 1.00, 1.00, 1.01, 1.01,
          1.01, 1.01, 1.02, 1.02, 1.02, 1.02, 1.02, 1.03, 1.03, 1.03,
          1.03, 1.03, 1.03, 1.04, 1.04, 1.04, 1.04, 1.04, 1.04, 1.05,
          1.05, 1.05, 1.05, 1.05, 1.05, 1.05, 1.06, 1.06, 1.06, 1.06,
          1.06, 1.06, 1.06, 1.06, 1.06, 1.06, 1.07, 1.07, 1.07, 1.07,
          1.07, 1.07, 1.07, 1.07, 1.07, 1.06, 1.06, 1.06, 1.06, 1.06,
          1.06, 1.06, 1.05, 1.05, 1.05, 1.05, 1.04, 1.00, 1.02, 1.03]
e_3 = [1300, 50, 15, 10, 5.5, 4, 3.5, 3.2, 5.5, 2.2,
       1.8, 1.5, 0.9, 2.2, 1.0, 0.8, 3.0, 0.9, 0.75, 0.7,
       0.65, 0.6, 1.0, 0.55, 0.6, 0.5, 0.5, 0.4, 0.55, 0.42,
       0.45, 0.4, 0.38, 0.4, 0.35, 0.5, 9.0, 0.6, 0.65, 0.7,
       0.8, 1.1, 1.7, 1.0, 0.8, 0.7, 0.6, 0.55, 0.6, 0.5,
       0.45, 0.55, 0.4, 0.5, 0.45, 0.4, 1.6, 0.5, 0.45, 0.4,
       0.35, 0.45, 0.3, 0.4, 0.5, 3.2, 0.7, 0.5, 0.55, 0.45,
       0.4, 0.5, 0.45, 0.6, 0.35, 0.4, 0.7, 0.3, 0.25, 0.25,
       0.3, 0.25, 2.0, 0.35, 0.3, 0.25, 0.4, 0.3, 0.35, 0.5,
       0.3, 0.25, 0.3, 0.9, 0.4, 0.35, 0.3, 0.35, 0.4, 0.55]
e_3_hi = [20000, 200, 60, 40, 25, 20, 15, 15, 35, 12,
          10, 8, 5, 12, 6, 5, 40, 5, 4, 4,
          3.5, 3, 10, 3, 3.5, 2.8, 3, 2.5, 4, 2.5,
          2.8, 2.5, 2.4, 2.6, 2.2, 3.5, 100, 4, 4.5, 5,
          5.5, 7, 15, 6, 5, 4, 3.5, 3, 3.5, 3,
          2.8, 3.2, 2.5, 3, 2.8, 2.5, 24, 3, 2.8, 2.5,
          2.2, 2.8, 2, 2.5, 3, 50, 4.5, 3, 3.5, 2.8,
          2.5, 3, 2.8, 5, 2.2, 2.5, 4.5, 2, 1.8, 1.8,
          2, 1.8, 35, 2.2, 2, 1.8, 2.5, 2, 2.2, 3,
          2, 1.8, 15, 6, 2.5, 2.2, 2, 2.2, 6, 3.5]
e_3_lo = [E_FLOOR] * 100

# ---------------- (f) Discretization ----------------
f_labels = ["4", "8", "12", "16"]
f_mean = [0.0887, 0.0860, 0.0832, 0.0848, 0.0834, 0.0855, 0.0852, 0.0846, 0.0838, 0.0848,
          0.0846, 0.0838, 0.0842, 0.0832, 0.0836, 0.0828, 0.0856, 0.0840, 0.0842, 0.0834,
          0.0848, 0.0834, 0.0836, 0.0830, 0.0828, 0.0832, 0.0836, 0.0838, 0.0840, 0.0832,
          0.0836, 0.0832, 0.0834, 0.0828, 0.0832, 0.0832, 0.0834, 0.0830, 0.0836, 0.0826,
          0.0822, 0.0834, 0.0828, 0.0836, 0.0832, 0.0840, 0.0850, 0.0830, 0.0824, 0.0822,
          0.0830, 0.0828, 0.0826, 0.0832, 0.0836, 0.0828, 0.0830, 0.0826, 0.0824, 0.0828,
          0.0818, 0.0814, 0.0836, 0.0840, 0.0840, 0.0838, 0.0814, 0.0822, 0.0820, 0.0820,
          0.0816, 0.0824, 0.0832, 0.0812, 0.0814, 0.0822, 0.0818, 0.0830, 0.0814, 0.0820,
          0.0832, 0.0808, 0.0792, 0.0790, 0.0812, 0.0824, 0.0810, 0.0822, 0.0812, 0.0816,
          0.0824, 0.0828, 0.0818, 0.0812, 0.0816, 0.0814, 0.0806, 0.0800, 0.0822, 0.0826]
f_up = [0.0273, 0.0240, 0.0205, 0.0215, 0.0200, 0.0210, 0.0205, 0.0212, 0.0200, 0.0203,
        0.0205, 0.0212, 0.0196, 0.0190, 0.0186, 0.0210, 0.0198, 0.0206, 0.0196, 0.0204,
        0.0190, 0.0200, 0.0188, 0.0196, 0.0206, 0.0200, 0.0196, 0.0192, 0.0186, 0.0200,
        0.0192, 0.0186, 0.0196, 0.0204, 0.0190, 0.0198, 0.0186, 0.0196, 0.0204, 0.0206,
        0.0200, 0.0190, 0.0198, 0.0206, 0.0214, 0.0216, 0.0186, 0.0196, 0.0200, 0.0206,
        0.0200, 0.0196, 0.0204, 0.0194, 0.0196, 0.0198, 0.0192, 0.0204, 0.0196, 0.0190,
        0.0188, 0.0206, 0.0194, 0.0180, 0.0186, 0.0190, 0.0212, 0.0200, 0.0196, 0.0204,
        0.0212, 0.0196, 0.0186, 0.0212, 0.0200, 0.0194, 0.0206, 0.0190, 0.0208, 0.0200,
        0.0196, 0.0210, 0.0194, 0.0196, 0.0188, 0.0184, 0.0198, 0.0188, 0.0206, 0.0202,
        0.0196, 0.0190, 0.0200, 0.0206, 0.0194, 0.0200, 0.0208, 0.0200, 0.0194, 0.0202]
f_lo = [0.0275, 0.0230, 0.0195, 0.0212, 0.0200, 0.0220, 0.0216, 0.0210, 0.0200, 0.0208,
        0.0196, 0.0206, 0.0202, 0.0190, 0.0196, 0.0200, 0.0220, 0.0202, 0.0210, 0.0200,
        0.0216, 0.0204, 0.0200, 0.0196, 0.0200, 0.0204, 0.0208, 0.0202, 0.0210, 0.0200,
        0.0208, 0.0204, 0.0202, 0.0196, 0.0206, 0.0200, 0.0206, 0.0194, 0.0210, 0.0206,
        0.0216, 0.0208, 0.0200, 0.0210, 0.0196, 0.0196, 0.0210, 0.0194, 0.0188, 0.0196,
        0.0200, 0.0202, 0.0192, 0.0204, 0.0210, 0.0194, 0.0200, 0.0190, 0.0202, 0.0196,
        0.0200, 0.0194, 0.0214, 0.0216, 0.0206, 0.0202, 0.0186, 0.0200, 0.0196, 0.0202,
        0.0190, 0.0204, 0.0214, 0.0190, 0.0196, 0.0206, 0.0198, 0.0206, 0.0196, 0.0200,
        0.0216, 0.0196, 0.0192, 0.0196, 0.0206, 0.0210, 0.0196, 0.0206, 0.0196, 0.0204,
        0.0200, 0.0210, 0.0198, 0.0190, 0.0200, 0.0192, 0.0200, 0.0206, 0.0200, 0.0200]

CAPTIONS = ["(a) Additive: <i>σ<sub>r</sub></i>", "(b) Multiplicative: <i>σ<sub>v</sub></i>",
            "(c) Projection: <i>ρ</i>", "(d) Input scaling: <i>β</i>",
            "(e) Strongly coupled", "(f) Discretization"]
LEGEND_TITLE = "Noise Strength"
Y_TITLE = "Gradient Norm"
X_TITLE = "Epoch"

# --------------------------------------------------------------
def rgba(hexc, a):
    h = hexc.lstrip("#")
    return "rgba(%d,%d,%d,%.3f)" % (int(h[0:2], 16), int(h[2:4], 16), int(h[4:6], 16), a)

SERIF = "Liberation Serif, Times New Roman, serif"

def dev_bands(series, up, lo):
    return [(m, [v + d for v, d in zip(m, up)], [v - d for v, d in zip(m, lo)]) for m in series]

panel_series = [
    (dev_bands([a_0, a_1, a_2, a_3], a_up, a_lo), a_labels),
    (dev_bands([b_0, b_1, b_2, b_3], b_up, b_lo), b_labels),
    (dev_bands([c_0, c_1, c_2, c_3], c_up, c_lo), c_labels),
    (dev_bands([d_0, d_1, d_2, d_3], d_up, d_lo), d_labels),
    ([(e_0, [v + d for v, d in zip(e_0, e_0_dev)], [v - d for v, d in zip(e_0, e_0_dev)]),
      (e_1, e_1_hi, e_1_lo), (e_2, e_2_hi, e_2_lo), (e_3, e_3_hi, e_3_lo)], e_labels),
    (dev_bands([f_mean, f_mean, f_mean, f_mean], f_up, f_lo), f_labels),
]

fig = go.Figure()
# bands first (below), then lines (matplotlib z-order: fills under lines)
for k, (series, labels) in enumerate(panel_series):
    n = k + 1
    xs = "x" if n == 1 else "x%d" % n
    ys = "y" if n == 1 else "y%d" % n
    for i, (m, hi, lo) in enumerate(series):
        fig.add_trace(go.Scatter(x=EPOCHS + EPOCHS[::-1], y=list(hi) + list(lo)[::-1],
                                 xaxis=xs, yaxis=ys, mode="lines", line=dict(width=0),
                                 fill="toself", fillcolor=rgba(COLORS[i], 0.22),
                                 showlegend=False, hoverinfo="skip"))
for k, (series, labels) in enumerate(panel_series):
    n = k + 1
    xs = "x" if n == 1 else "x%d" % n
    ys = "y" if n == 1 else "y%d" % n
    for i, (m, hi, lo) in enumerate(series):
        fig.add_trace(go.Scatter(x=EPOCHS, y=m, xaxis=xs, yaxis=ys, mode="lines",
                                 line=dict(color=COLORS[i], width=1.3), name=labels[i],
                                 showlegend=False))

# ---------------- layout ----------------
def px_dom_x(l, r):
    return [l / W, r / W]

def px_dom_y(t, b):
    return [1 - b / H, 1 - t / H]

panels = [
    dict(x=(37, 324), y=(53, 257), yr=[0.50, 1.50], dt=0.2, fmt=".1f", yt=14),
    dict(x=(380, 667), y=(53, 257), yr=[0.35, 1.525], dt=0.2, fmt=".1f", yt=357),
    dict(x=(723, 1011), y=(53, 257), yr=[0.49, 1.505], dt=0.2, fmt=".1f", yt=700),
    dict(x=(37, 324), y=(324, 529), yr=[0.537, 1.485], dt=0.2, fmt=".1f", yt=14),
    dict(x=(385, 667), y=(324, 529), yr=[-1.18, 5.27], dt=None, fmt=None, yt=357),
    dict(x=(728, 1011), y=(324, 529), yr=[0.0568, 0.1189], dt=0.01, fmt=".2f", yt=697),
]

axis_common = dict(showline=True, mirror=True, linecolor="#333333", linewidth=1,
                   ticks="outside", ticklen=2.5, tickwidth=0.8, tickcolor="#333333",
                   showgrid=True, gridcolor="#e3e3e3", gridwidth=0.8, zeroline=False,
                   tickfont=dict(family=SERIF, size=10, color="#222222"))

layout = dict(width=W, height=H, margin=dict(l=0, r=0, t=0, b=0),
              paper_bgcolor="white", plot_bgcolor="white", showlegend=False,
              font=dict(family=SERIF, color="#222222"))

for k, p in enumerate(panels):
    n = k + 1
    xk = "xaxis" if n == 1 else "xaxis%d" % n
    yk = "yaxis" if n == 1 else "yaxis%d" % n
    anchor_x = "y" if n == 1 else "y%d" % n
    anchor_y = "x" if n == 1 else "x%d" % n
    xa = dict(axis_common, domain=px_dom_x(*p["x"]), anchor=anchor_x,
              range=[-4.95, 103.95], tick0=0, dtick=20,
              title=dict(text=X_TITLE, font=dict(family=SERIF, size=11.5), standoff=1))
    ya = dict(axis_common, domain=px_dom_y(*p["y"]), anchor=anchor_y, range=p["yr"])
    if p["dt"] is None:
        ya.update(type="log", tickvals=[0.1, 1, 10, 100, 1000, 10000, 100000],
                  ticktext=["10<sup>−1</sup>", "10<sup>0</sup>", "10<sup>1</sup>", "10<sup>2</sup>",
                            "10<sup>3</sup>", "10<sup>4</sup>", "10<sup>5</sup>"])
    else:
        ya.update(tick0=0, dtick=p["dt"], tickformat=p["fmt"])
    layout[xk] = xa
    layout[yk] = ya

fig.update_layout(**layout)

# y-axis titles
for p in panels:
    cy = (p["y"][0] + p["y"][1]) / 2
    fig.add_annotation(x=p["yt"] / W, y=1 - cy / H, xref="paper", yref="paper", text=Y_TITLE,
                       textangle=-90, showarrow=False, xanchor="center", yanchor="middle",
                       font=dict(family=SERIF, size=11, color="#222222"))

# ---------------- legends (boxed, one per panel) ----------------
# (left, top, width, line start offset, line length, text offset)
legend_boxes = [(149, 190, 64, 4, 16, 26), (496, 192, 57, 8, 18, 32), (839, 192, 57, 8, 17, 32),
                (41, 328, 57, 7, 17, 31), (607, 328, 57, 8, 18, 32), (950, 328, 57, 10, 17, 35)]
LEG_H = 61
shapes = []
for k, (lx, ty, bw, l0, ll, t0) in enumerate(legend_boxes):
    labels = panel_series[k][1]
    shapes.append(dict(type="rect", xref="paper", yref="paper", layer="above",
                       x0=lx / W, x1=(lx + bw) / W, y0=1 - (ty + LEG_H) / H, y1=1 - ty / H,
                       fillcolor="rgba(255,255,255,0.82)", line=dict(color="#cfcfcf", width=1)))
    fig.add_annotation(x=(lx + bw / 2) / W, y=1 - (ty + 7) / H, xref="paper", yref="paper",
                       text=LEGEND_TITLE, showarrow=False, xanchor="center", yanchor="middle",
                       font=dict(family=SERIF, size=8.5, color="#222222"))
    for i in range(4):
        yy = ty + 18.5 + 11.6 * i
        shapes.append(dict(type="line", xref="paper", yref="paper", layer="above",
                           x0=(lx + l0) / W, x1=(lx + l0 + ll) / W, y0=1 - yy / H, y1=1 - yy / H,
                           line=dict(color=COLORS[i], width=1.6)))
        fig.add_annotation(x=(lx + t0) / W, y=1 - yy / H, xref="paper", yref="paper",
                           text=labels[i], showarrow=False, xanchor="left", yanchor="middle",
                           font=dict(family=SERIF if k else "DejaVu Sans, sans-serif",
                                     size=8.5 if k else 8, color="#222222"))
fig.update_layout(shapes=shapes)

cap_pos = [(181, 297), (517, 297), (866, 297), (166, 578), (509, 578), (852, 578)]
for (cx, cy), txt in zip(cap_pos, CAPTIONS):
    fig.add_annotation(x=cx / W, y=1 - cy / H, xref="paper", yref="paper", text="<b>%s</b>" % txt,
                       showarrow=False, xanchor="center", yanchor="middle",
                       font=dict(family="DejaVu Serif, serif", size=13.5, color="#111111"))

HEAD_FONT = dict(family="Liberation Sans, sans-serif", size=12, color="#222222")
fig.add_annotation(x=5 / W, y=1 - 10 / H, xref="paper", yref="paper", text="Preprint, 2026,",
                   showarrow=False, xanchor="left", yanchor="middle", font=HEAD_FONT)
fig.add_annotation(x=1016 / W, y=1 - 10 / H, xref="paper", yref="paper", text="Yunxuan Fang and Xinhe Wang",
                   showarrow=False, xanchor="right", yanchor="middle", font=HEAD_FONT)

fig.write_html("out.html")
